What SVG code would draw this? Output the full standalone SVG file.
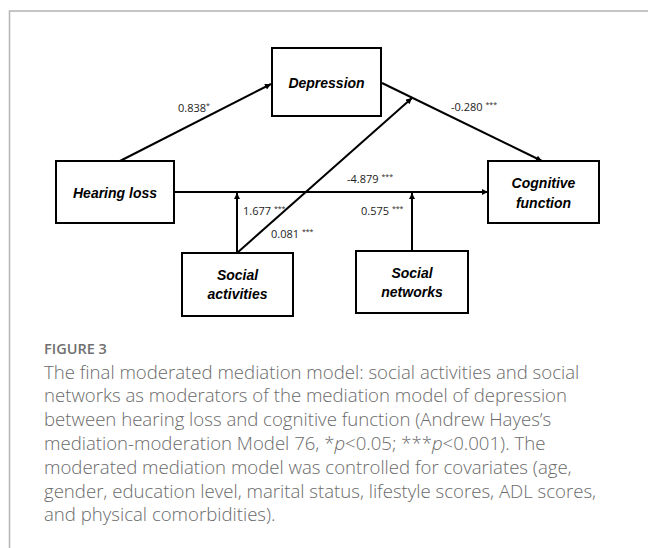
<svg xmlns="http://www.w3.org/2000/svg" width="648" height="548" viewBox="0 0 648 548">
<style>
.frame{fill:none;stroke:#b4b4b4;stroke-width:1.5}
.box{fill:#fff;stroke:#000;stroke-width:2}
.lbl{font-family:"Liberation Sans","DejaVu Sans",sans-serif;font-weight:bold;font-style:italic;font-size:14px;fill:#000;text-anchor:middle}
.edge{fill:none;stroke:#000;stroke-width:2}
.coef{font-family:"Open Sans","Liberation Sans",sans-serif;font-size:11px;fill:#222}
.sup{font-size:7px}
.cap{font-family:"Open Sans","Liberation Sans",sans-serif;font-weight:300;font-size:18.6px;fill:#6a6a6a}
.fig{font-family:"Open Sans","Liberation Sans",sans-serif;font-weight:600;font-size:14.5px;fill:#707070}
</style>
<defs>
<marker id="ah" viewBox="0 0 10 10" refX="10" refY="5" markerWidth="7" markerHeight="6" markerUnits="userSpaceOnUse" orient="auto">
<path d="M0,0 L10,5 L0,10 z" fill="#000"/>
</marker>
</defs>
<path class="frame" d="M9.5,548 V11 H648"/>
<g id="connectors">
<line class="edge" x1="120" y1="161" x2="271" y2="84" marker-end="url(#ah)"/>
<line class="edge" x1="382" y1="83" x2="542" y2="161" marker-end="url(#ah)"/>
<line class="edge" x1="174" y1="192" x2="488" y2="192" marker-end="url(#ah)"/>
<line class="edge" x1="237" y1="253" x2="237" y2="193" marker-end="url(#ah)"/>
<line class="edge" x1="237" y1="253" x2="412" y2="98" marker-end="url(#ah)"/>
<line class="edge" x1="412" y1="251" x2="412" y2="193" marker-end="url(#ah)"/>
<text class="coef" x="178" y="112">0.838<tspan class="sup" dy="-4">*</tspan></text>
<text class="coef" x="451" y="111">-0.280 <tspan class="sup" dy="-4">***</tspan></text>
<text class="coef" x="347" y="183">-4.879 <tspan class="sup" dy="-4">***</tspan></text>
<text class="coef" x="243" y="215">1.677 <tspan class="sup" dy="-4">***</tspan></text>
<text class="coef" x="271" y="238">0.081 <tspan class="sup" dy="-4">***</tspan></text>
<text class="coef" x="361" y="215">0.575 <tspan class="sup" dy="-4">***</tspan></text>
</g>
<g id="depression">
<rect class="box" x="272" y="48" width="109" height="68"/>
<text class="lbl" x="326.5" y="88">Depression</text>
</g>
<g id="hearing-loss">
<rect class="box" x="56" y="161" width="118" height="62"/>
<text class="lbl" x="115" y="198">Hearing loss</text>
</g>
<g id="cognitive-function">
<rect class="box" x="488" y="161" width="111" height="62"/>
<text class="lbl" x="543.5" y="188">Cognitive</text>
<text class="lbl" x="543.5" y="208">function</text>
</g>
<g id="social-activities">
<rect class="box" x="182" y="253" width="111" height="63"/>
<text class="lbl" x="237.5" y="280">Social</text>
<text class="lbl" x="237.5" y="299">activities</text>
</g>
<g id="social-networks">
<rect class="box" x="356" y="251" width="112" height="62"/>
<text class="lbl" x="412" y="278">Social</text>
<text class="lbl" x="412" y="297">networks</text>
</g>
<g id="caption">
<text class="fig" x="44" y="354">FIGURE 3</text>
<text class="cap" x="44" y="378.5">The final moderated mediation model: social activities and social</text>
<text class="cap" x="44" y="402.3">networks as moderators of the mediation model of depression</text>
<text class="cap" x="44" y="426">between hearing loss and cognitive function (Andrew Hayes’s</text>
<text class="cap" x="44" y="450">mediation-moderation Model 76, *<tspan font-style="italic">p</tspan>&lt;0.05; ***<tspan font-style="italic">p</tspan>&lt;0.001). The</text>
<text class="cap" x="44" y="474">moderated mediation model was controlled for covariates (age,</text>
<text class="cap" x="44" y="497.5">gender, education level, marital status, lifestyle scores, ADL scores,</text>
<text class="cap" x="44" y="521">and physical comorbidities).</text>
</g>
</svg>
